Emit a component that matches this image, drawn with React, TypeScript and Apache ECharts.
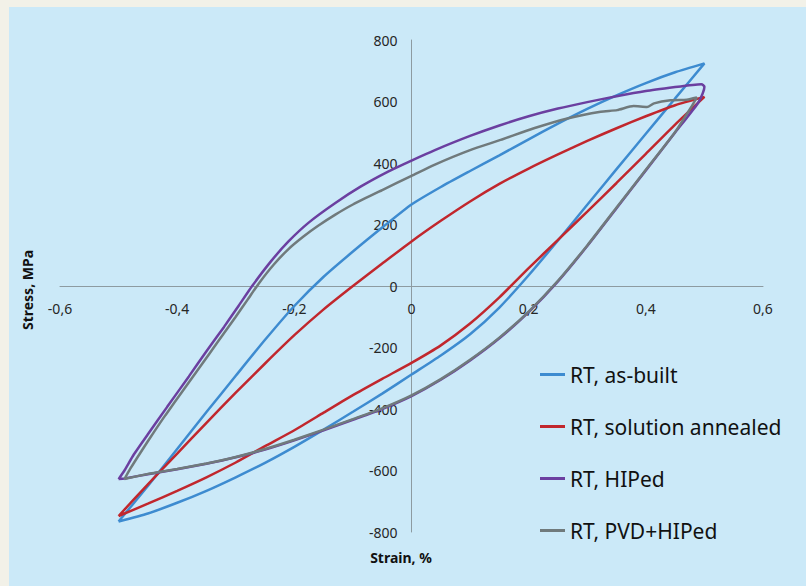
import React, { useEffect, useRef } from 'react';
import * as echarts from 'echarts';

const seriesNames = ['RT, as-built', 'RT, solution annealed', 'RT, HIPed', 'RT, PVD+HIPed'];
const seriesColors = ['#3d8bd0', '#c1272d', '#6b3fa0', '#707a7c'];

const asBuilt: number[][] = [
  [-0.5, -766], [-0.45, -650], [-0.4, -530], [-0.35, -410], [-0.3, -292], [-0.25, -175], [-0.2, -65],
  [-0.15, 30], [-0.1, 112], [-0.05, 190], [0, 265], [0.05, 322], [0.1, 374], [0.15, 425], [0.2, 477],
  [0.25, 528], [0.3, 576], [0.35, 620], [0.4, 660], [0.45, 695], [0.5, 724],
  [0.45, 610], [0.4, 495], [0.35, 380], [0.3, 264], [0.25, 148], [0.2, 35], [0.15, -70], [0.1, -157],
  [0.05, -226], [0, -288], [-0.05, -350], [-0.1, -409], [-0.15, -467], [-0.2, -523], [-0.25, -575],
  [-0.3, -622], [-0.35, -666], [-0.4, -705], [-0.45, -740], [-0.5, -766],
];

const solutionAnnealed: number[][] = [
  [-0.5, -748], [-0.45, -645], [-0.4, -545], [-0.35, -445], [-0.3, -347], [-0.25, -252], [-0.2, -160],
  [-0.15, -76], [-0.1, 0], [-0.05, 73], [0, 145], [0.05, 212], [0.1, 275], [0.15, 332], [0.2, 382],
  [0.25, 428], [0.3, 472], [0.35, 513], [0.4, 552], [0.45, 588], [0.5, 615],
  [0.45, 525], [0.4, 430], [0.35, 335], [0.3, 242], [0.25, 150], [0.2, 58], [0.15, -37], [0.1, -122],
  [0.05, -193], [0, -250], [-0.05, -302], [-0.1, -355], [-0.15, -412], [-0.2, -469], [-0.25, -521],
  [-0.3, -574], [-0.35, -622], [-0.4, -666], [-0.45, -708], [-0.5, -748],
];

const hiped: number[][] = [
  [-0.5, -628], [-0.49, -600], [-0.474, -548], [-0.45, -482], [-0.417, -393], [-0.38, -294], [-0.35, -212],
  [-0.32, -133], [-0.295, -64], [-0.272, 0], [-0.24, 80], [-0.21, 145], [-0.175, 207], [-0.13, 270],
  [-0.087, 323], [-0.04, 372], [0, 408], [0.04, 442], [0.1, 488], [0.15, 522], [0.2, 552], [0.25, 577],
  [0.3, 598], [0.35, 617], [0.4, 634], [0.45, 647], [0.48, 654], [0.495, 656], [0.5, 648], [0.497, 626],
  [0.488, 592], [0.45, 499], [0.4, 376], [0.35, 253], [0.3, 130], [0.25, 15], [0.2, -85], [0.15, -170],
  [0.1, -242], [0.05, -305], [0, -358], [-0.05, -400], [-0.1, -435], [-0.15, -469], [-0.2, -502],
  [-0.25, -532], [-0.3, -557], [-0.35, -578], [-0.4, -596], [-0.45, -612], [-0.49, -626], [-0.5, -628],
];

const pvdHiped: number[][] = [
  [-0.49, -628], [-0.48, -594], [-0.46, -534], [-0.44, -476], [-0.42, -420], [-0.39, -340], [-0.36, -260],
  [-0.33, -180], [-0.3, -100], [-0.28, -45], [-0.26, 10], [-0.235, 70], [-0.21, 120], [-0.185, 160],
  [-0.16, 195], [-0.13, 232], [-0.1, 265], [-0.05, 312], [0, 358], [0.04, 395], [0.1, 442], [0.152, 475],
  [0.209, 513], [0.266, 545], [0.323, 567], [0.351, 572], [0.379, 585], [0.402, 582], [0.414, 594],
  [0.442, 604], [0.47, 606], [0.487, 613],
  [0.48, 590], [0.45, 501], [0.4, 378], [0.35, 255], [0.3, 132], [0.25, 17], [0.2, -83], [0.15, -168],
  [0.1, -240], [0.05, -303], [0, -356], [-0.05, -398], [-0.1, -433], [-0.15, -467], [-0.2, -500],
  [-0.25, -530], [-0.3, -556], [-0.35, -577], [-0.4, -595], [-0.45, -611], [-0.49, -628],
];

const seriesData = [asBuilt, solutionAnnealed, hiped, pvdHiped];

const xTitle = 'Strain, %';
const yTitle = 'Stress, MPa';

const FONT = '"Noto Sans", "Open Sans", sans-serif';

export default function App() {
  const ref = useRef<HTMLDivElement>(null);
  useEffect(() => {
    const chart = echarts.init(ref.current!, null, { renderer: 'svg' });
    chart.setOption({
      animation: false,
      backgroundColor: 'transparent',
      textStyle: { fontFamily: FONT },
      grid: { left: 60, right: 43, top: 40, bottom: 54, containLabel: false },
      xAxis: {
        type: 'value',
        position: 'bottom',
        offset: -246,
        min: -0.6,
        max: 0.6,
        interval: 0.2,
        axisLine: { onZero: false, lineStyle: { color: '#8d9ba1', width: 1 } },
        axisTick: { show: false },
        splitLine: { show: false },
        axisLabel: {
          margin: 15,
          fontSize: 14,
          color: '#262626',
          fontFamily: FONT,
          formatter: (v: number) => {
            const r = Math.round(v * 10) / 10;
            return r === 0 ? '0' : r.toFixed(1).replace('.', ',');
          },
        },
      },
      yAxis: {
        type: 'value',
        position: 'left',
        offset: -351.5,
        min: -800,
        max: 800,
        interval: 200,
        axisLine: { onZero: false, lineStyle: { color: '#8d9ba1', width: 1 } },
        axisTick: { show: false },
        splitLine: { show: false },
        axisLabel: { margin: 14, fontSize: 14, color: '#262626', fontFamily: FONT },
      },
      legend: {
        orient: 'vertical',
        left: 535,
        top: 359,
        icon: 'rect',
        itemWidth: 25,
        itemHeight: 3,
        itemGap: 31,
        data: seriesNames,
        textStyle: { fontSize: 21, color: '#111', fontFamily: FONT },
      },
      graphic: [
        {
          type: 'text',
          rotation: Math.PI / 2,
          x: 27,
          y: 290,
          style: {
            text: yTitle,
            fontSize: 14,
            fontWeight: 'bold',
            fill: '#111',
            fontFamily: FONT,
            textAlign: 'center',
            textVerticalAlign: 'middle',
          },
        },
        {
          type: 'text',
          x: 401,
          y: 557,
          style: {
            text: xTitle,
            fontSize: 14,
            fontWeight: 'bold',
            fill: '#111',
            fontFamily: FONT,
            textAlign: 'center',
            textVerticalAlign: 'middle',
          },
        },
      ],
      series: seriesNames.map((name, i) => ({
        name,
        type: 'line',
        data: seriesData[i],
        symbol: 'none',
        smooth: 0.2,
        lineStyle: { width: 2.5, color: seriesColors[i] },
        itemStyle: { color: seriesColors[i] },
        z: 2 + i,
      })),
    });
    return () => chart.dispose();
  }, []);
  return (
    <div style={{ position: 'fixed', left: 0, top: 0, width: 806, height: 586, background: '#f2f1e8' }}>
      <div style={{ position: 'absolute', left: 9, top: 7, right: 0, bottom: 0, background: '#cbe9f8' }} />
      <div ref={ref} style={{ position: 'absolute', left: 0, top: 0, width: 806, height: 586 }} />
    </div>
  );
}
